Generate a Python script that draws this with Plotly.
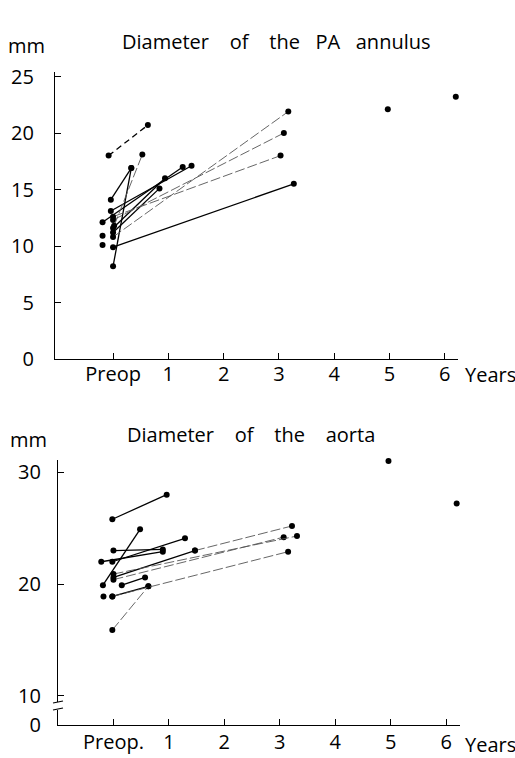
import plotly.graph_objects as go

# ---------------- data: PA annulus (top) ----------------
pa_pre_x = [-0.08, -0.04, 0.00, -0.04, -0.19, 0.00, 0.00, 0.00, 0.00, 0.00, 0.00, 0.02]
pa_pre_y = [18.0, 14.1, 8.2, 13.1, 12.1, 11.6, 11.2, 10.8, 12.3, 12.6, 9.9, 11.8]
pa_post_x = [0.63, 0.33, 0.33, 1.42, 1.26, 0.94, 0.84, 3.17, 3.09, 3.03, 3.27, 0.53]
pa_post_y = [20.7, 16.9, 16.9, 17.1, 17.0, 16.0, 15.1, 21.9, 20.0, 18.0, 15.5, 18.1]
pa_style = ["dash", "solid", "solid", "solid", "solid", "solid", "solid",
            "faint", "faint", "faint", "solid", "faint"]
pa_single_x = [-0.19, -0.19, 4.97, 6.20]
pa_single_y = [10.9, 10.1, 22.1, 23.2]

# ---------------- data: aorta (bottom) ----------------
ao_pre_x = [-0.02, -0.19, 0.00, -0.02, -0.22, 0.00, 1.47, 0.15, -0.02, -0.02, -0.02, 0.00, 0.00]
ao_pre_y = [25.8, 19.9, 23.0, 22.0, 22.0, 20.6, 23.0, 19.9, 18.9, 15.9, 18.9, 20.4, 20.9]
ao_post_x = [0.96, 0.48, 0.89, 1.29, 0.89, 1.47, 3.22, 0.57, 0.63, 0.63, 3.15, 3.07, 3.31]
ao_post_y = [28.0, 24.9, 23.1, 24.1, 22.9, 23.0, 25.2, 20.6, 19.8, 19.8, 22.9, 24.2, 24.3]
ao_style = ["solid", "solid", "solid", "solid", "solid", "solid", "faint",
            "solid", "solid", "faint", "faint", "faint", "faint"]
ao_single_x = [-0.18, 4.96, 6.19]
ao_single_y = [18.9, 31.0, 27.2]

tick_vals = [0, 1, 2, 3, 4, 5, 6]
pa_tick_text = ["Preop", "1", "2", "3", "4", "5", "6"]
ao_tick_text = ["Preop.", "1", "2", "3", "4", "5", "6"]

FONT = "Open Sans"
FS = 20
W, H = 515, 758
SP = "\u00a0"

fig = go.Figure()

def add_segments(px, py, qx, qy, styles, xa, ya):
    for x0, y0, x1, y1, st in zip(px, py, qx, qy, styles):
        if st == "solid":
            line = dict(color="black", width=1.3)
        elif st == "dash":
            line = dict(color="black", width=1.3, dash="6px,4px")
        else:
            line = dict(color="#555555", width=0.9, dash="10px,3px")
        fig.add_trace(go.Scatter(
            x=[x0, x1], y=[y0, y1], mode="lines+markers", cliponaxis=False,
            line=line, marker=dict(color="black", size=6),
            xaxis=xa, yaxis=ya, showlegend=False, hoverinfo="skip"))

add_segments(pa_pre_x, pa_pre_y, pa_post_x, pa_post_y, pa_style, "x", "y")
fig.add_trace(go.Scatter(x=pa_single_x, y=pa_single_y, mode="markers", cliponaxis=False,
                         marker=dict(color="black", size=6),
                         xaxis="x", yaxis="y", showlegend=False))
add_segments(ao_pre_x, ao_pre_y, ao_post_x, ao_post_y, ao_style, "x2", "y2")
fig.add_trace(go.Scatter(x=ao_single_x, y=ao_single_y, mode="markers", cliponaxis=False,
                         marker=dict(color="black", size=6),
                         xaxis="x2", yaxis="y2", showlegend=False))

def px2x(p):
    return p / W

def py2y(p):
    return 1 - p / H

axis_common = dict(showline=True, linecolor="black", linewidth=1.3,
                   ticks="inside", ticklen=6, tickcolor="black", tickwidth=1.2,
                   showgrid=False, zeroline=False, automargin=False,
                   tickfont=dict(family=FONT, size=FS, color="black"))

fig.update_layout(
    width=W, height=H,
    margin=dict(l=0, r=0, t=0, b=0),
    paper_bgcolor="white", plot_bgcolor="white",
    font=dict(family=FONT, color="black"),
    xaxis=dict(domain=[px2x(55), px2x(458)], range=[-1.05, 6.24],
               tickvals=tick_vals, ticktext=pa_tick_text, anchor="y",
               ticklabelstandoff=-3, **axis_common),
    yaxis=dict(domain=[py2y(359), py2y(72)], range=[0, 25.4],
               tickvals=[0, 5, 10, 15, 20, 25], anchor="x",
               ticklabelstandoff=16, **axis_common),
    xaxis2=dict(domain=[px2x(58), px2x(460)], range=[-1.0, 6.25],
                tickvals=tick_vals, ticktext=ao_tick_text, anchor="y2",
                ticklabelstandoff=-1, **axis_common),
    yaxis2=dict(domain=[py2y(725), py2y(460)], range=[7.4, 31.1],
                tickvals=[7.4, 10, 20, 30], ticktext=["0", "10", "20", "30"],
                anchor="x2", ticklabelstandoff=12, **axis_common),
)

title_top = "Diameter" + SP * 4 + "of" + SP * 4 + "the" + SP * 3 + "PA" + SP * 3 + "annulus"
title_bot = "Diameter" + SP * 4 + "of" + SP * 4 + "the" + SP * 4 + "aorta"

ann_font = dict(family=FONT, size=FS, color="black")
annotations = [
    dict(text="mm", x=px2x(6), y=py2y(46), xanchor="left", yanchor="middle"),
    dict(text=title_top, x=px2x(120), y=py2y(41), xanchor="left", yanchor="middle"),
    dict(text="Years", x=px2x(463), y=py2y(375), xanchor="left", yanchor="middle"),
    dict(text="mm", x=px2x(8), y=py2y(439), xanchor="left", yanchor="middle"),
    dict(text=title_bot, x=px2x(125), y=py2y(434), xanchor="left", yanchor="middle"),
    dict(text="Years", x=px2x(463), y=py2y(744), xanchor="left", yanchor="middle"),
]
for a in annotations:
    fig.add_annotation(xref="paper", yref="paper", showarrow=False, font=ann_font, **a)

# axis break symbol on the lower y axis
fig.add_shape(type="rect", xref="paper", yref="paper",
              x0=px2x(55), x1=px2x(62), y0=py2y(710), y1=py2y(702),
              fillcolor="white", line=dict(width=0))
for yy in (702, 709):
    fig.add_shape(type="line", xref="paper", yref="paper",
                  x0=px2x(53), x1=px2x(63), y0=py2y(yy + 1), y1=py2y(yy - 1),
                  line=dict(color="black", width=1.2))

fig.write_html("out.html", config={"displayModeBar": False},
               post_script="document.body.style.margin='0';")
